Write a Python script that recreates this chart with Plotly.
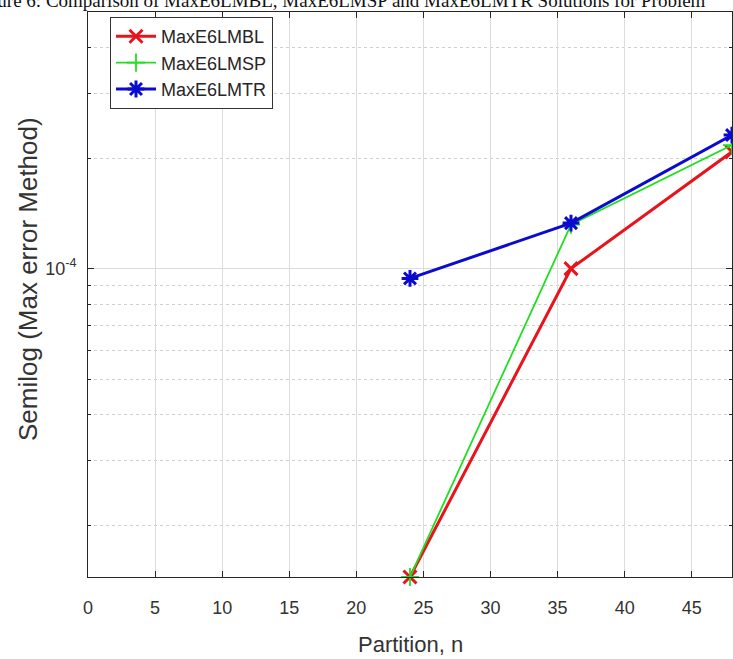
import plotly.graph_objects as go
import numpy as np

# Partition sizes and maximum errors for each method
partitions = [24, 36, 48]
max_err_bl = [1.445e-5, 1.0e-4, 2.08e-4]
max_err_sp = [1.445e-5, 1.317e-4, 2.17e-4]
max_err_tr = [9.4e-5, 1.33e-4, 2.31e-4]

series_names = ["MaxE6LMBL", "MaxE6LMSP", "MaxE6LMTR"]
x_ticks = [0, 5, 10, 15, 20, 25, 30, 35, 40, 45]
y_major = [1e-4]
y_major_text = ["10<sup>-4</sup>"]
y_minor = [2e-5, 3e-5, 4e-5, 5e-5, 6e-5, 7e-5, 8e-5, 9e-5, 2e-4, 3e-4, 4e-4]

x_range = [0, 48]
y_top = 5e-4

W, H = 733, 659
L, R, T, B = 88, 1, 12, 82

sans = "Liberation Sans, Arial, Helvetica"

fig = go.Figure()
styles = [
    dict(color="#e8141c", width=3, symbol="x-thin-open", size=13),
    dict(color="#1ee01e", width=1.8, symbol="cross-thin-open", size=13),
    dict(color="#0b0bd0", width=3, symbol="asterisk-open", size=14),
]
for name, ys, st in zip(series_names, [max_err_bl, max_err_sp, max_err_tr], styles):
    fig.add_trace(go.Scatter(
        x=partitions, y=ys, name=name, mode="lines+markers",
        line=dict(color=st["color"], width=st["width"]),
        marker=dict(symbol=st["symbol"], size=st["size"],
                    line=dict(color=st["color"], width=st["width"])),
        cliponaxis=False,
    ))

all_vals = max_err_bl + max_err_sp + max_err_tr
y_range = [np.log10(min(all_vals)), np.log10(y_top)]

axis_common = dict(
    showline=True, linecolor="#262626", linewidth=1, mirror="ticks",
    ticks="inside", tickcolor="#262626",
    zeroline=False,
    tickfont=dict(family=sans, size=18, color="#333333"),
)

fig.update_xaxes(
    range=x_range, tickvals=x_ticks, ticklen=6,
    showgrid=True, gridcolor="#dcdcdc", gridwidth=1,
    ticklabelstandoff=14,
    **axis_common,
)
fig.update_yaxes(
    type="log", range=y_range,
    tickvals=y_major, ticktext=y_major_text, ticklen=6,
    showgrid=True, gridcolor="#dcdcdc", gridwidth=1,
    ticklabelstandoff=7,
    minor=dict(tickvals=y_minor, ticks="inside", ticklen=3, tickcolor="#262626",
               showgrid=True, gridcolor="#cfcfcf", griddash="dot", gridwidth=1),
    **axis_common,
)

def px_to_paper_x(p):
    return (p - L) / (W - L - R)

def px_to_paper_y(p):
    return (H - B - p) / (H - B - T)

fig.add_annotation(
    text="Semilog (Max error Method)", textangle=-90,
    xref="paper", yref="paper", x=px_to_paper_x(28), y=px_to_paper_y(279),
    xanchor="center", yanchor="middle", showarrow=False,
    font=dict(family=sans, size=26, color="#333333"),
)
fig.add_annotation(
    text="Partition, n",
    xref="paper", yref="paper", x=px_to_paper_x(410), y=px_to_paper_y(644),
    xanchor="center", yanchor="middle", showarrow=False,
    font=dict(family=sans, size=22, color="#333333"),
)
fig.add_annotation(
    text="Figure 6: Comparison of MaxE6LMBL, MaxE6LMSP and MaxE6LMTR Solutions for Problem",
    xref="paper", yref="paper", x=px_to_paper_x(-30), y=px_to_paper_y(0),
    xanchor="left", yanchor="middle", showarrow=False,
    font=dict(family="Liberation Serif, Times New Roman, serif", size=19, color="#111111"),
)

fig.update_layout(
    width=W, height=H,
    margin=dict(l=L, r=R, t=T, b=B, pad=0),
    paper_bgcolor="white", plot_bgcolor="white",
    showlegend=True,
    legend=dict(
        x=px_to_paper_x(110), y=px_to_paper_y(17), xanchor="left", yanchor="top",
        bgcolor="white", bordercolor="#333333", borderwidth=1,
        font=dict(family=sans, size=18, color="#262626"),
        itemwidth=40, tracegroupgap=0, entrywidth=163,
    ),
)

fig.write_html("out.html")
